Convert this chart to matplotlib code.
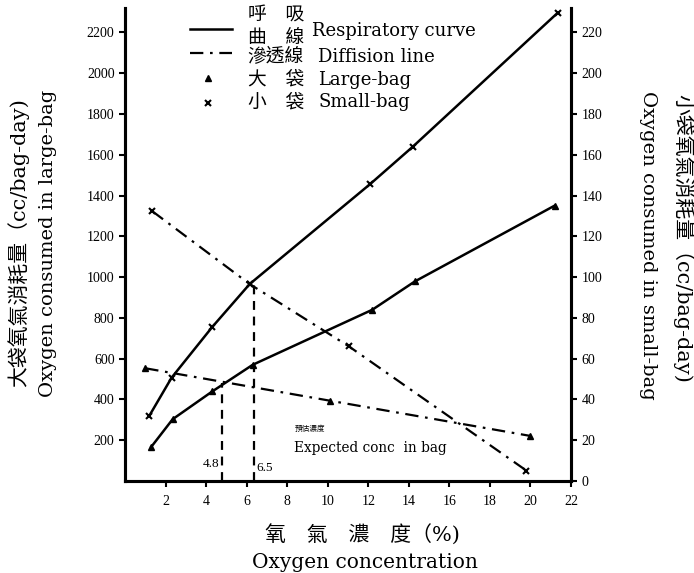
import matplotlib
matplotlib.use('Agg')
import matplotlib.pyplot as plt
from matplotlib.lines import Line2D

plt.rcParams['font.family'] = ['DejaVu Serif', 'Noto Sans CJK TC']

# 大袋 (left axis, cc/bag-day)
x_large_resp = [1.3, 2.35, 4.3, 6.3, 12.2, 14.3, 21.2]
y_large_resp = [168, 303, 439, 570, 840, 979, 1351]
x_large_diff = [1.0, 10.1, 20.0]
y_large_diff = [553, 394, 221]

# 小袋 (right axis, cc/bag-day)
x_small_resp = [1.2, 2.3, 4.3, 6.15, 12.1, 14.2, 21.35]
y_small_resp = [32, 50.7, 75.5, 96.6, 145.7, 164, 229.7]
x_small_diff = [1.35, 6.15, 11.05, 19.8]
y_small_diff = [132.3, 96.6, 66, 5.1]

# expected concentration in bag
cut_large_x, cut_large_y = 4.8, 480
cut_small_x, cut_small_y = 6.35, 970
cut_labels = ['4.8', '6.5']

x_ticks = [2, 4, 6, 8, 10, 12, 14, 16, 18, 20, 22]
left_ticks = [200, 400, 600, 800, 1000, 1200, 1400, 1600, 1800, 2000, 2200]
right_ticks = [0, 20, 40, 60, 80, 100, 120, 140, 160, 180, 200, 220]

W, H = 694, 573
fig = plt.figure(figsize=(W / 100, H / 100), dpi=100)
ax = fig.add_axes([125 / W, 1 - 481 / H, 446 / W, 473 / H])
ax2 = ax.twinx()

dashdot = (6, 3, 1.2, 3)
k = 'black'

ax.plot(x_large_resp, y_large_resp, color=k, lw=1.8, marker='^', ms=5)
ax.plot(x_large_diff, y_large_diff, color=k, lw=1.6, dashes=dashdot, marker='^', ms=5)
ax2.plot(x_small_resp, y_small_resp, color=k, lw=1.8, marker='x', ms=4, mew=1.5)
ax2.plot(x_small_diff, y_small_diff, color=k, lw=1.6, dashes=dashdot, marker='x', ms=4, mew=1.5)

# 預估濃度 vertical lines
ax.plot([cut_large_x, cut_large_x], [0, cut_large_y], color=k, lw=1.6, dashes=(4, 3))
ax.plot([cut_small_x, cut_small_x], [0, cut_small_y], color=k, lw=1.6, dashes=(4, 3))
ax.text(cut_large_x - 0.15, 85, cut_labels[0], ha='right', va='center', fontsize=9.5,
        family='Liberation Serif')
ax.text(cut_small_x + 0.15, 65, cut_labels[1], ha='left', va='center', fontsize=9.5,
        family='Liberation Serif')
ax.text(8.35, 255, '預估濃度', fontsize=5.5, ha='left', va='center')
ax.text(8.35, 160, 'Expected conc  in bag', fontsize=9.8, ha='left', va='center')

ax.set_xlim(0, 22)
ax.set_ylim(0, 2320)
ax2.set_ylim(0, 232)
ax.set_xticks(x_ticks)
ax.set_yticks(left_ticks)
ax2.set_yticks(right_ticks)
for a in (ax, ax2):
    a.tick_params(direction='out', length=4, width=1.5, labelsize=10)
    a.spines['top'].set_visible(False)
    for s in ('left', 'right', 'bottom'):
        a.spines[s].set_linewidth(2.2)
    for lab in a.get_xticklabels() + a.get_yticklabels():
        lab.set_family('Liberation Serif')
ax.tick_params(axis='x', pad=6)

# legend drawn by hand
tr = ax.transAxes
ax.add_line(Line2D([0.146, 0.240], [0.956, 0.956], color=k, lw=1.8, transform=tr))
ax.add_line(Line2D([0.146, 0.240], [0.905, 0.905], color=k, lw=1.6, dashes=dashdot, transform=tr))
ax.plot([0.185], [0.851], marker='^', color=k, ms=5, transform=tr)
ax.plot([0.185], [0.800], marker='x', color=k, ms=4, mew=1.5, transform=tr)
lx, ex = 0.275, 0.433
ax.text(lx, 0.985, '呼　吸', fontsize=13.5, transform=tr, va='center')
ax.text(lx, 0.937, '曲　線', fontsize=13.5, transform=tr, va='center')
ax.text(0.419, 0.952, 'Respiratory curve', fontsize=13, transform=tr, va='center')
ax.text(lx, 0.896, '滲透線', fontsize=13.5, transform=tr, va='center')
ax.text(ex, 0.896, 'Diffision line', fontsize=13, transform=tr, va='center')
ax.text(lx, 0.848, '大　袋', fontsize=13.5, transform=tr, va='center')
ax.text(ex, 0.848, 'Large-bag', fontsize=13, transform=tr, va='center')
ax.text(lx, 0.801, '小　袋', fontsize=13.5, transform=tr, va='center')
ax.text(ex, 0.801, 'Small-bag', fontsize=13, transform=tr, va='center')

# axis titles
fig.text(18 / W, 1 - 243 / H, '大袋氧氣消耗量（cc/bag-day)', rotation=90,
         ha='center', va='center', fontsize=15)
fig.text(48 / W, 1 - 243 / H, 'Oxygen consumed in large-bag', rotation=90,
         ha='center', va='center', fontsize=14)
fig.text(648 / W, 1 - 245 / H, 'Oxygen consumed in small-bag', rotation=-90,
         ha='center', va='center', fontsize=14)
fig.text(683 / W, 1 - 238 / H, '小袋氧氣消耗量（cc/bag-day)', rotation=-90,
         ha='center', va='center', fontsize=15)
fig.text(362 / W, 1 - 535 / H, '氧　氣　濃　度（%)', ha='center', va='center', fontsize=15)
fig.text(365 / W, 1 - 562 / H, 'Oxygen concentration', ha='center', va='center', fontsize=14.5)

fig.savefig('out.png', dpi=100)
